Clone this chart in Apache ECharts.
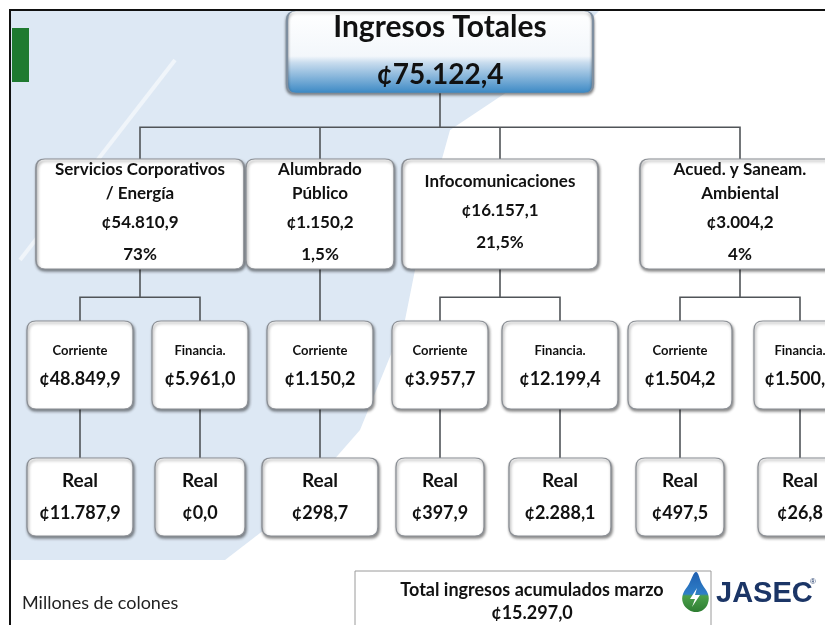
<!DOCTYPE html>
<html>
<head>
<meta charset="utf-8">
<title>Ingresos Totales</title>
<script src="https://cdn.jsdelivr.net/npm/echarts@6/dist/echarts.min.js"></script>
<style>
  html, body { margin: 0; padding: 0; background: #ffffff; }
  #chart { width: 825px; height: 625px; }
</style>
</head>
<body>
<div id="chart"></div>
<script>
(function() {
  'use strict';

  // datos (millones de colones)
  var totalIngresos = 75122.4;
  var totalAcumuladoMarzo = 15297.0;
  var divisiones = ['Servicios Corporativos\n/ Energía', 'Alumbrado\nPúblico', 'Infocomunicaciones', 'Acued. y Saneam.\nAmbiental'];
  var montoDivision = [54810.9, 1150.2, 16157.1, 3004.2];
  var porcentaje = [73, 1.5, 21.5, 4];
  var corriente = [48849.9, 1150.2, 3957.7, 1504.2];
  var financia = [5961.0, null, 12199.4, 1500.0];
  var realCorriente = [11787.9, 298.7, 397.9, 497.5];
  var realFinancia = [0.0, null, 2288.1, 26.8];

  var FONT = "Lato, 'Open Sans', 'Noto Sans', sans-serif";
  var INK = '#111111';
  var BG_BLUE = '#dde8f4';

  // anchos de las cajas por nivel
  var wDiv = [208, 148, 196, 200];
  var wCorr = [106, 106, 96, 104];
  var wFin = [96, null, 116, 92];
  var wRealC = [106, 116, 88, 88];
  var wRealF = [90, null, 102, 84];

  function fmt(v) {
    var parts = v.toFixed(1).split('.');
    var ent = parts[0].replace(/\B(?=(\d{3})+(?!\d))/g, '.');
    return '\u00a2' + ent + ',' + parts[1];
  }
  function fmtPct(v) {
    return String(v).replace('.', ',') + '%';
  }

  function rr(w, h, r) {
    return 'path://M' + r + ',0H' + (w - r) + 'Q' + w + ',0 ' + w + ',' + r +
      'V' + (h - r) + 'Q' + w + ',' + h + ' ' + (w - r) + ',' + h +
      'H' + r + 'Q0,' + h + ' 0,' + (h - r) + 'V' + r + 'Q0,0 ' + r + ',0Z';
  }

  function boxStyle() {
    return {
      color: '#ffffff', borderColor: '#8c9096', borderWidth: 1.2,
      shadowBlur: 3, shadowOffsetX: 1, shadowOffsetY: 2, shadowColor: 'rgba(0,0,0,0.45)'
    };
  }

  function box(name, w, h, offY, label) {
    return {
      name: name,
      symbol: rr(w, h, 9),
      symbolSize: [w, h],
      symbolOffset: [0, offY],
      itemStyle: boxStyle(),
      label: label
    };
  }

  // nodo invisible que separa Corriente y Financia
  function spacer(color) {
    return {
      name: '',
      symbol: 'rect',
      symbolSize: [6, 62],
      symbolOffset: [0, -26],
      itemStyle: { color: color, borderWidth: 0, shadowBlur: 0 },
      label: { show: false }
    };
  }

  function levelLabel(lines) {
    return {
      show: true, position: 'inside', color: INK, fontFamily: FONT,
      formatter: lines.join('\n'),
      rich: {
        t: { fontFamily: FONT, fontWeight: 'bold', fontSize: 17, color: INK, lineHeight: 24 },
        v: { fontFamily: FONT, fontWeight: 'bold', fontSize: 17, color: INK, lineHeight: 34 },
        p: { fontFamily: FONT, fontWeight: 'bold', fontSize: 17, color: INK, lineHeight: 30 },
        s: { fontFamily: FONT, fontWeight: 'bold', fontSize: 13, color: INK, lineHeight: 28 },
        m: { fontFamily: FONT, fontWeight: 'bold', fontSize: 18, color: INK, lineHeight: 28 },
        r: { fontFamily: FONT, fontWeight: 'bold', fontSize: 19, color: INK, lineHeight: 32 },
        rv: { fontFamily: FONT, fontWeight: 'bold', fontSize: 18, color: INK, lineHeight: 32 }
      }
    };
  }

  function realNode(v, w) {
    return box('Real', w, 78, -28, levelLabel(['{r|Real}', '{rv|' + fmt(v) + '}']));
  }

  function subNode(title, v, w, real, realW) {
    var n = box(title, w, 88, 10, levelLabel(['{s|' + title + '}', '{m|' + fmt(v) + '}']));
    n.children = [realNode(real, realW)];
    return n;
  }

  var spacerColor = [BG_BLUE, null, '#ffffff', '#ffffff'];

  var children = divisiones.map(function(d, i) {
    var lines = d.split('\n').map(function(t) { return '{t|' + t + '}'; });
    lines.push('{v|' + fmt(montoDivision[i]) + '}');
    lines.push('{p|' + fmtPct(porcentaje[i]) + '}');
    var n = box(d, wDiv[i], 110, 29, levelLabel(lines));
    n.children = [subNode('Corriente', corriente[i], wCorr[i], realCorriente[i], wRealC[i])];
    if (financia[i] !== null) {
      n.children.push(spacer(spacerColor[i]));
      n.children.push(subNode('Financia.', financia[i], wFin[i], realFinancia[i], wRealF[i]));
    }
    return n;
  });

  var root = {
    name: 'Ingresos Totales',
    symbol: rr(306, 82, 9),
    symbolSize: [306, 82],
    symbolOffset: [0, 37],
    itemStyle: {
      color: {
        type: 'linear', x: 0, y: 0, x2: 0, y2: 1,
        colorStops: [
          { offset: 0, color: '#ffffff' }, { offset: 0.55, color: '#f3f7fb' },
          { offset: 0.63, color: '#c8dcee' }, { offset: 1, color: '#3a88c4' }
        ]
      },
      borderColor: '#7f8fa0', borderWidth: 1.2,
      shadowBlur: 3, shadowOffsetY: 2, shadowColor: 'rgba(0,0,0,0.45)'
    },
    label: {
      show: true, position: 'inside',
      formatter: '{a|Ingresos Totales}\n{b|' + fmt(totalIngresos) + '}',
      rich: {
        a: { fontFamily: FONT, fontWeight: 'bold', fontSize: 30, color: INK, lineHeight: 46, padding: [0, 0, 2, 0] },
        b: { fontFamily: FONT, fontWeight: 'bold', fontSize: 28, color: INK, lineHeight: 48 }
      }
    },
    children: children
  };

  var chart = echarts.init(document.getElementById('chart'), null, { renderer: 'canvas' });

  chart.setOption({
    backgroundColor: '#ffffff',
    animation: false,
    graphic: [
      // fondo azul claro del lado izquierdo
      {
        type: 'polygon', z: -10, silent: true,
        shape: {
          points: [[10, 10], [600, 10], [540, 70], [450, 130], [425, 220], [405, 320], [360, 430], [290, 510], [225, 560], [10, 560]]
        },
        style: { fill: BG_BLUE }
      },
      {
        type: 'line', z: -9, silent: true,
        shape: { x1: 20, y1: 260, x2: 175, y2: 60 },
        style: { stroke: 'rgba(255,255,255,0.55)', lineWidth: 4 }
      },
      // marco de la diapositiva
      {
        type: 'polyline', z: 20, silent: true,
        shape: { points: [[10, 625], [10, 10], [825, 10]] },
        style: { stroke: '#111111', lineWidth: 2, fill: null }
      },
      {
        type: 'rect', z: 20, silent: true,
        shape: { x: 12, y: 28, width: 17, height: 54 },
        style: { fill: '#1f7a30' }
      },
      {
        type: 'text', z: 20, silent: true, left: 22, top: 594,
        style: { text: 'Millones de colones', font: '18px ' + FONT, fill: '#222222' }
      },
      // recuadro total acumulado
      {
        type: 'rect', z: 20, silent: true,
        shape: { x: 355, y: 571, width: 356, height: 70 },
        style: { fill: '#ffffff', stroke: '#9a9a9a', lineWidth: 1 }
      },
      {
        type: 'text', z: 21, silent: true, x: 532, y: 590,
        style: {
          text: 'Total ingresos acumulados marzo', font: 'bold 18px ' + FONT, fill: INK,
          align: 'center', verticalAlign: 'middle'
        }
      },
      {
        type: 'text', z: 21, silent: true, x: 532, y: 613,
        style: {
          text: fmt(totalAcumuladoMarzo), font: 'bold 18px ' + FONT, fill: INK,
          align: 'center', verticalAlign: 'middle'
        }
      },
      // logo JASEC
      {
        type: 'polygon', z: 21, silent: true,
        shape: {
          points: [[696, 572], [689, 584], [683, 594], [683, 603], [689, 610], [696, 612], [703, 610], [708, 603], [708, 594], [702, 584]],
          smooth: 0.4
        },
        style: {
          fill: {
            type: 'linear', x: 0, y: 0, x2: 0, y2: 1,
            colorStops: [{ offset: 0, color: '#1f5fb0' }, { offset: 0.55, color: '#2f7fc8' }, { offset: 0.6, color: '#4aa04a' }, { offset: 1, color: '#2e7d32' }]
          }
        }
      },
      {
        type: 'polygon', z: 22, silent: true,
        shape: { points: [[697, 588], [690, 599], [695, 599], [692, 607], [700, 595], [695, 595]] },
        style: { fill: '#ffffff' }
      },
      {
        type: 'text', z: 21, silent: true, x: 716, y: 594,
        style: {
          text: 'JASEC', font: "bold 29px 'Liberation Sans', Arial, sans-serif", fill: '#1b3566',
          align: 'left', verticalAlign: 'middle'
        }
      },
      {
        type: 'text', z: 21, silent: true, x: 810, y: 582,
        style: { text: '\u00ae', font: "8px 'Liberation Sans', sans-serif", fill: '#1b3566', verticalAlign: 'middle' }
      }
    ],
    series: [{
      type: 'tree',
      data: [root],
      layout: 'orthogonal',
      orient: 'TB',
      edgeShape: 'polyline',
      edgeForkPosition: '66%',
      left: 20,
      top: 15,
      width: 840,
      height: 510,
      initialTreeDepth: -1,
      expandAndCollapse: false,
      roam: false,
      silent: true,
      lineStyle: { color: '#505458', width: 1.6, curveness: 0 },
      label: { position: 'inside' },
      leaves: { label: { position: 'inside' } },
      emphasis: { disabled: true }
    }]
  });

  window.addEventListener('resize', function() { chart.resize(); });
})();
</script>
</body>
</html>
